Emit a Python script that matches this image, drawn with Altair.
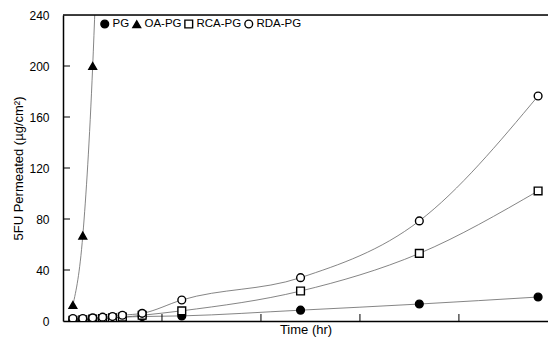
import altair as alt
import pandas as pd

times = [1, 2, 3, 4, 5, 6, 8, 12, 24, 36, 48]
pg = [0.5, 1.0, 1.5, 2.0, 2.5, 3.0, 3.5, 4.0, 8.5, 13.3, 18.8]
rca = [0.5, 1.0, 1.5, 2.0, 2.5, 3.0, 4.5, 8.0, 23.5, 53.0, 102.0]
rda = [2.0, 2.0, 2.5, 3.0, 3.5, 4.5, 6.0, 16.5, 34.0, 78.5, 176.5]
oa_times = [1, 2, 3, 4]
oa = [12.5, 67.0, 200.0, 430.0]

series_order = ["PG", "OA-PG", "RCA-PG", "RDA-PG"]
y_ticks = [40, 80, 120, 160, 200]
x_ticks = [10, 20, 30, 40]

rows = []
for t, v in zip(times, pg):
    rows.append({"series": "PG", "t": t, "v": v})
for t, v in zip(oa_times, oa):
    rows.append({"series": "OA-PG", "t": t, "v": v})
for t, v in zip(times, rca):
    rows.append({"series": "RCA-PG", "t": t, "v": v})
for t, v in zip(times, rda):
    rows.append({"series": "RDA-PG", "t": t, "v": v})
df = pd.DataFrame(rows)

W, H = 485, 306
xs = alt.Scale(domain=[0, 49], nice=False, zero=True)
ys = alt.Scale(domain=[0, 240], nice=False)

x_enc = alt.X("t:Q", scale=xs, axis=alt.Axis(title="Time (hr)", labels=False, ticks=False, grid=False,
                                            domainColor="black", domainWidth=1.5,
                                            titleFontSize=13, titleFontWeight="normal",
                                            titlePadding=2, titleColor="black"))
y_enc = alt.Y("v:Q", scale=ys, axis=alt.Axis(title="5FU Permeated (µg/cm²)", values=[0, 40, 80, 120, 160, 200, 240],
                                            ticks=False, grid=False, domainColor="black", domainWidth=1.5,
                                            labelFontSize=12, labelPadding=14, labelColor="black",
                                            titleFontSize=13, titleFontWeight="normal", titlePadding=3,
                                            titleColor="black"))

lines = alt.Chart(df).mark_line(interpolate="monotone", color="#666666", strokeWidth=0.8, clip=True).encode(
    x=x_enc, y=y_enc, detail="series:N")

leg = alt.Legend(title=None, orient="none", legendX=36, legendY=3, direction="horizontal",
                 labelFontSize=11.5, labelColor="black", symbolSize=60,
                 symbolStrokeWidth=1.4,
                 columnPadding=0, labelOffset=2, symbolOffset=0, padding=0)

points = alt.Chart(df).mark_point(filled=False, size=60, strokeWidth=1.4, clip=True, opacity=1).encode(
    x=alt.X("t:Q", scale=xs),
    y=alt.Y("v:Q", scale=ys),
    stroke=alt.Stroke("series:N", sort=series_order,
                      scale=alt.Scale(domain=series_order, range=["black", "black", "black", "black"]),
                      legend=leg),
    shape=alt.Shape("series:N", sort=series_order,
                    scale=alt.Scale(domain=series_order, range=["circle", "triangle-up", "square", "circle"]),
                    legend=leg),
    fill=alt.Fill("series:N", sort=series_order,
                  scale=alt.Scale(domain=series_order, range=["black", "black", "white", "white"]),
                  legend=leg),
)

ytick_df = pd.DataFrame({"v": y_ticks})
yticks = alt.Chart(ytick_df).mark_rule(color="black", strokeWidth=1).encode(
    y=alt.Y("v:Q", scale=ys), x=alt.value(0), x2=alt.value(7))

xtick_df = pd.DataFrame({"t": x_ticks})
xticks = alt.Chart(xtick_df).mark_rule(color="black", strokeWidth=1).encode(
    x=alt.X("t:Q", scale=xs), y=alt.value(H), y2=alt.value(H - 7))

top = alt.Chart(pd.DataFrame({"a": [0]})).mark_rule(color="black", strokeWidth=1.5).encode(
    y=alt.value(0), x=alt.value(0), x2=alt.value(W))

chart = alt.layer(lines, points, yticks, xticks, top).properties(
    width=W, height=H,
    autosize=alt.AutoSizeParams(type="none"),
    padding={"left": 63, "top": 15, "right": 0, "bottom": 18},
).configure_view(stroke=None).configure(font="Liberation Sans").resolve_scale(shape="shared", fill="shared", stroke="shared")

chart.save("out.html", embed_options={"renderer": "svg", "actions": False})
